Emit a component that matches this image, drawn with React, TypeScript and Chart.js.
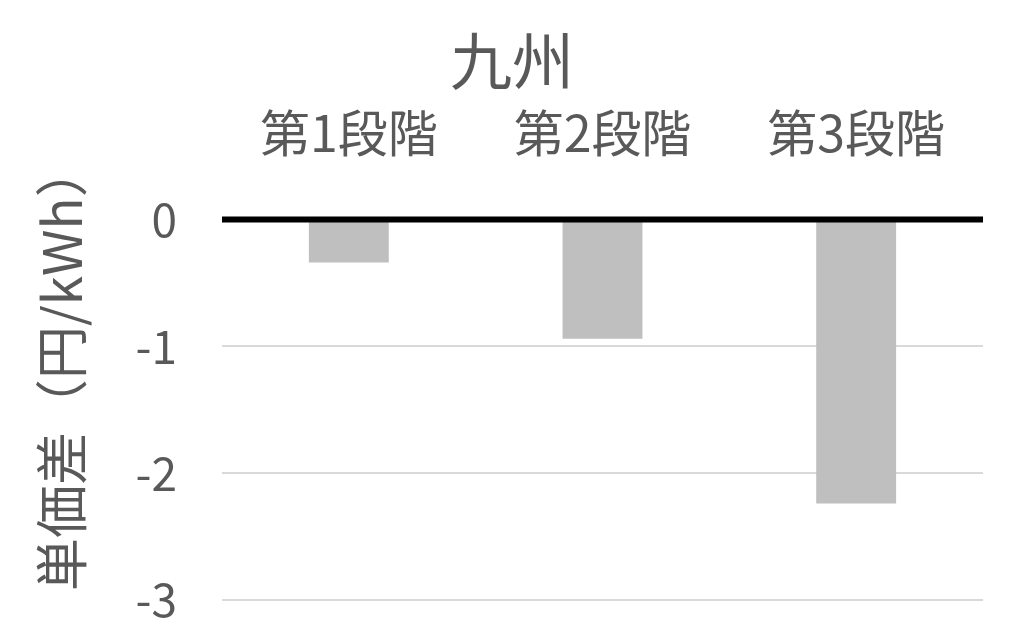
import React, { useEffect, useRef } from 'react';
import { Chart, registerables, Plugin } from 'chart.js';

Chart.register(...registerables);

const categories = ['第1段階', '第2段階', '第3段階'];
const priceDiff = [-0.34, -0.94, -2.24];
const yTicks = [-3, -2, -1, 0];
const yTitle = '単価差（円/kWh）';

const FONT = '"Noto Sans CJK JP", "Noto Sans", sans-serif';
const TEXT = '#595959';

// the black zero line sits on top of the bars
const zeroLine: Plugin<'bar'> = {
  id: 'zeroLine',
  afterDatasetsDraw(chart) {
    const { ctx, chartArea, scales } = chart;
    const y = scales.y.getPixelForValue(0);
    ctx.save();
    ctx.strokeStyle = '#000000';
    ctx.lineWidth = 6;
    ctx.beginPath();
    ctx.moveTo(chartArea.left, y);
    ctx.lineTo(chartArea.right, y);
    ctx.stroke();
    ctx.restore();
  },
};

// vertical axis title, a bit above the plot centre like the original
const axisTitle: Plugin<'bar'> = {
  id: 'axisTitle',
  afterDraw(chart) {
    const { ctx, chartArea } = chart;
    ctx.save();
    ctx.translate(62, (chartArea.top + chartArea.bottom) / 2 - 42);
    ctx.rotate(-Math.PI / 2);
    ctx.font = `53px ${FONT}`;
    ctx.fillStyle = TEXT;
    ctx.textAlign = 'center';
    ctx.textBaseline = 'middle';
    ctx.fillText(yTitle, 0, 0);
    ctx.restore();
  },
};

export default function App() {
  const chartRef = useRef<HTMLCanvasElement | null>(null);

  useEffect(() => {
    document.body.style.margin = '0';
    if (!chartRef.current) return;

    const chart = new Chart(chartRef.current, {
      type: 'bar',
      data: {
        labels: categories,
        datasets: [
          {
            label: '単価差',
            data: priceDiff,
            backgroundColor: '#bfbfbf',
            categoryPercentage: 1,
            barPercentage: 0.315,
          },
        ],
      },
      plugins: [zeroLine, axisTitle],
      options: {
        animation: false,
        responsive: true,
        maintainAspectRatio: false,
        layout: { padding: { top: 24, right: 41, bottom: 42, left: 41 } },
        plugins: {
          legend: { display: false },
          tooltip: { enabled: false },
          title: {
            display: true,
            text: '九州',
            color: TEXT,
            font: { family: FONT, size: 62, weight: 'normal' },
            padding: { top: 0, bottom: -43 },
          },
        },
        scales: {
          x: {
            position: 'top',
            grid: { display: false },
            border: { display: false },
            ticks: {
              color: TEXT,
              font: { family: FONT, size: 50 },
              padding: 48,
            },
          },
          y: {
            min: -3,
            max: 0,
            afterBuildTicks: (axis) => {
              axis.ticks = yTicks.map((v) => ({ value: v }));
            },
            afterFit: (axis) => {
              axis.width = 181;
              axis.paddingTop = 0;
              axis.paddingBottom = 0;
            },
            border: { display: false },
            grid: {
              drawTicks: false,
              color: (ctx) => (ctx.tick && ctx.tick.value === 0 ? 'rgba(0,0,0,0)' : '#d9d9d9'),
              lineWidth: 2,
            },
            ticks: {
              color: TEXT,
              font: { family: FONT, size: 46 },
              padding: 45,
            },
          },
        },
      },
    });

    return () => {
      chart.destroy();
    };
  }, []);

  return (
    <div style={{ width: 1024, height: 642, position: 'relative' }}>
      <canvas ref={chartRef} />
    </div>
  );
}
